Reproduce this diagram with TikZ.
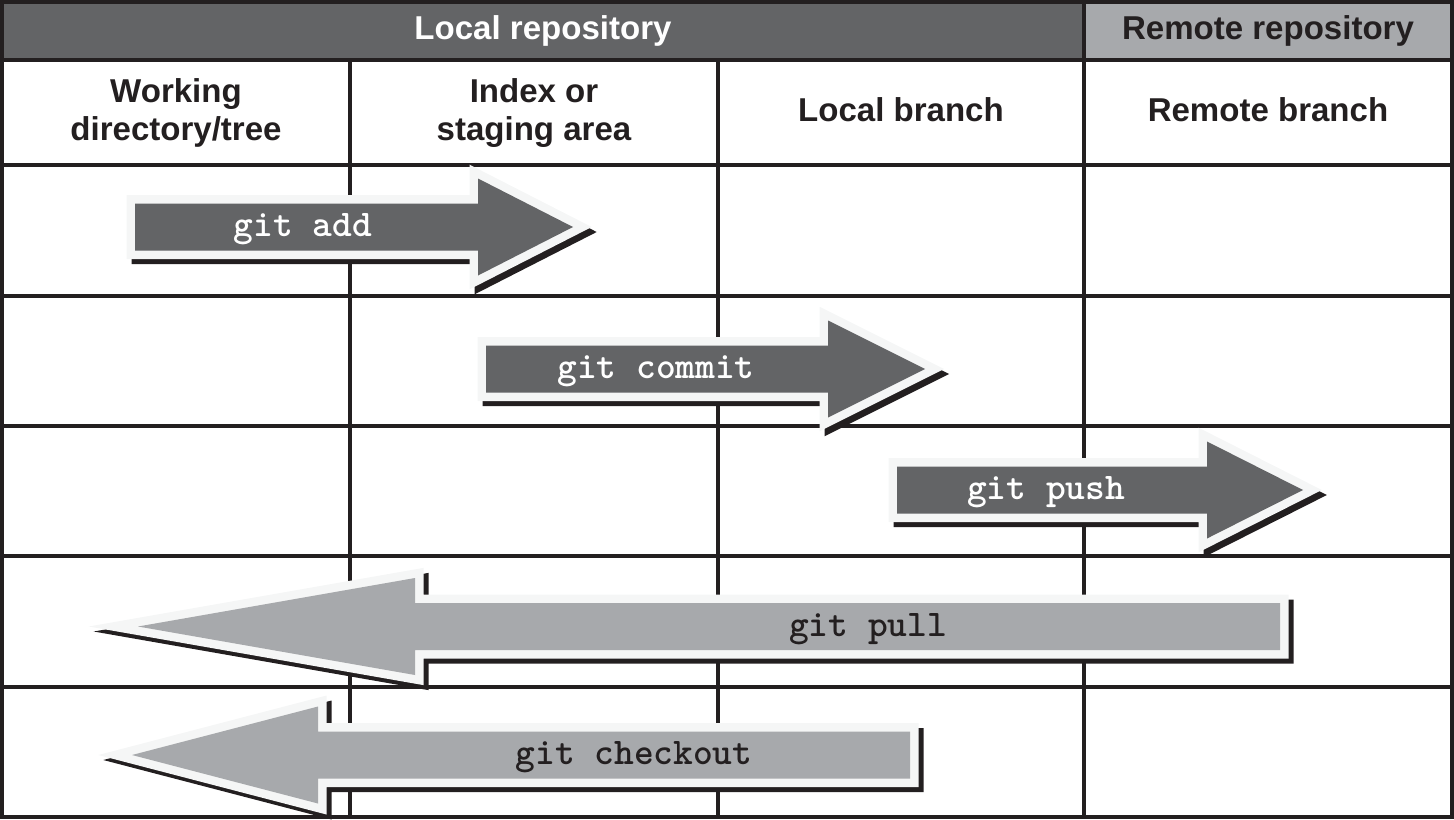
\documentclass[tikz,border=0pt]{standalone}
\usepackage{fontspec}
\setmainfont{Liberation Sans}
\newfontfamily\cmdfont{lmmonolt10-bold}[Extension=.otf]
\usepackage{xcolor}
\definecolor{ink}{HTML}{231F20}
\definecolor{darkbox}{HTML}{636466}
\definecolor{lightbox}{HTML}{A7A9AC}
\definecolor{rim}{HTML}{F5F6F6}
\tikzset{
  gridline/.style={draw=ink,line width=0.35mm},
  heading/.style={font=\bfseries\fontsize{9.4}{10.8}\selectfont,text=ink,
    align=center,inner sep=0pt},
  gitcmd/.style={font=\cmdfont\fontsize{10.7}{12}\selectfont,inner sep=0pt,yshift=-0.25mm},
  shadowpath/.style={draw=ink,fill=ink,line width=1.7mm,line join=miter,shift={(5,5)}},
  rimpath/.style={draw=rim,fill=rim,line width=1.7mm,line join=miter},
  darkarrow/.style={fill=darkbox},
  lightarrow/.style={fill=lightbox}
}
% block arrow: tail x, head x, tip x, centre y (units are 0.1mm)
\newcommand{\arrowoutline}[4]{(#1,{#4-23.5}) -- (#2,{#4-23.5}) -- (#2,{#4-48.5})
  -- (#3,#4) -- (#2,{#4+48.5}) -- (#2,{#4+23.5}) -- (#1,{#4+23.5}) -- cycle}
\newcommand{\gitarrow}[5]{%
  \path[shadowpath] \arrowoutline{#2}{#3}{#4}{#5};
  \path[rimpath] \arrowoutline{#2}{#3}{#4}{#5};
  \path[#1] \arrowoutline{#2}{#3}{#4}{#5};
}

\begin{document}
\begin{tikzpicture}[x=0.1mm,y=-0.1mm]
  \useasboundingbox (0,0) rectangle (1454,819);

  % header bar
  \fill[darkbox] (2,2) rectangle (1084,60);
  \fill[lightbox] (1084,2) rectangle (1452,60);

  % table grid
  \draw[gridline,line width=0.4mm] (2,2) rectangle (1452,817);
  \foreach \y in {60,165,296,426,556,687}
    \draw[gridline] (2,\y) -- (1452,\y);
  \foreach \x in {350,718}
    \draw[gridline] (\x,60) -- (\x,817);
  \draw[gridline] (1084,2) -- (1084,817);

  \node[heading,text=white] (localrepo) at (543,31) {Local repository};
  \node[heading] (remoterepo) at (1268,31) {Remote repository};
  \node[heading] (worktree) at (176,113) {Working\\directory/tree};
  \node[heading] (staging) at (534,113) {Index or\\staging area};
  \node[heading] (localbr) at (901,110) {Local branch};
  \node[heading] (remotebr) at (1268,110) {Remote branch};

  % commands
  \gitarrow{darkarrow}{135}{478}{573}{227}
  \node[gitcmd,text=white] (add) at (303,227) {git add};
  \gitarrow{darkarrow}{486}{828}{925}{369}
  \node[gitcmd,text=white] (commit) at (656,369) {git commit};
  \gitarrow{darkarrow}{897}{1207}{1303}{490}
  \node[gitcmd,text=white] (push) at (1046,490) {git push};
  \gitarrow{lightarrow}{1280}{415}{138}{626.5}
  \node[gitcmd,text=ink] (pull) at (868,626.5) {git pull};
  \gitarrow{lightarrow}{910}{318}{132}{755}
  \node[gitcmd,text=ink] (checkout) at (634,755) {git checkout};
\end{tikzpicture}
\end{document}
